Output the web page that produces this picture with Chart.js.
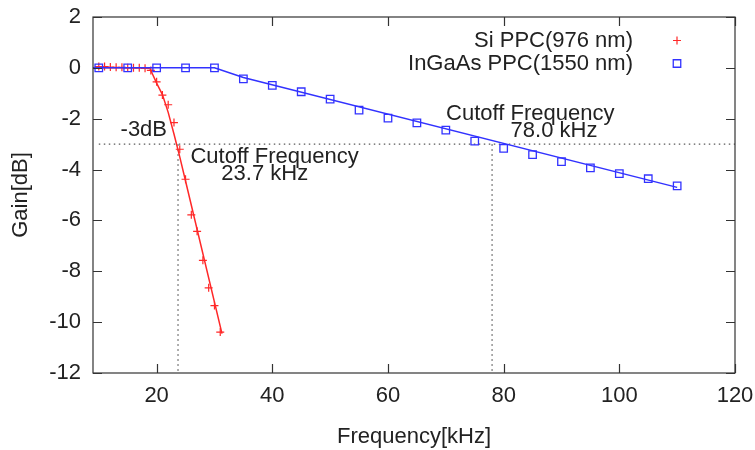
<!DOCTYPE html>
<html>
<head>
<meta charset="utf-8">
<script src="https://cdn.jsdelivr.net/npm/chart.js@4.4.0/dist/chart.umd.min.js"></script>
<style>
  html, body { margin: 0; padding: 0; background: #fff; }
  #wrap { width: 755px; height: 450px; }
</style>
</head>
<body>
<div id="wrap"><canvas id="myChart" width="755" height="450"></canvas></div>
<script>
    'use strict';

    // measured points
    var siFreq = [10, 11, 12, 13, 14, 15, 16, 17, 18, 19, 20, 21, 22, 23, 24, 25, 26, 27, 28, 29, 30, 31];
    var siGain = [0.05, 0.05, 0.03, 0.02, 0.02, 0.0, 0.0, 0.0, -0.02, -0.1, -0.55, -1.07, -1.45, -2.15, -3.2, -4.38, -5.78, -6.43, -7.57, -8.65, -9.35, -10.39];
    var ingaasFreq = [10, 15, 20, 25, 30, 35, 40, 45, 50, 55, 60, 65, 70, 75, 80, 85, 90, 95, 100, 105, 110];
    var ingaasGain = [0, 0, 0, 0, 0, -0.43, -0.69, -0.94, -1.23, -1.66, -1.98, -2.16, -2.45, -2.88, -3.17, -3.41, -3.69, -3.93, -4.16, -4.36, -4.64];

    // fitted curves
    var siFitFreq = [8.5, 18.8, 19.3, 20, 21, 22, 23, 24, 25, 31.3];
    var siFitGain = [0, 0, -0.25, -0.6, -1.05, -1.75, -2.6, -3.5, -4.45, -10.45];
    var ingaasFitFreq = [9, 30, 35, 110];
    var ingaasFitGain = [0, 0, -0.38, -4.7];

    // -3 dB level and cutoff frequencies
    var levelFreq = [10, 120];
    var levelGain = -3;
    var cutoffFreq = [23.7, 78.0];

    var xTickValues = [20, 40, 60, 80, 100, 120];
    var yTickValues = [-12, -10, -8, -6, -4, -2, 0, 2];

    var noteText = ['-3dB', 'Cutoff Frequency', '23.7 kHz', 'Cutoff Frequency', '78.0 kHz'];
    var noteFreq = [21.8, 40.4, 38.7, 84.6, 88.7];
    var noteGain = [-2.45, -3.5, -4.17, -1.8, -2.5];
    var noteAlign = ['right', 'center', 'center', 'center', 'center'];

    var FONT = '"Liberation Sans", Arial, sans-serif';
    var RED = 'rgb(255, 40, 40)';
    var BLUE = 'rgb(50, 50, 255)';
    var DOT = 'rgb(90, 90, 90)';

    function pts(xs, ys) {
        return xs.map(function (x, i) { return {x: x, y: Array.isArray(ys) ? ys[i] : ys}; });
    }

    var dotted = {
        showLine: true, pointRadius: 0, borderColor: DOT, borderWidth: 1.3,
        borderDash: [1.5, 3.5], order: 9, legendHide: true
    };

    var datasets = [
        { label: 'InGaAs PPC(1550 nm)', data: pts(ingaasFreq, ingaasGain), pointStyle: 'rect',
          pointRadius: 5.3, borderColor: BLUE, backgroundColor: 'rgba(0,0,0,0)', pointBorderWidth: 1.3, order: 0 },
        { label: 'ingaas fit', data: pts(ingaasFitFreq, ingaasFitGain), showLine: true, pointRadius: 0,
          borderColor: BLUE, borderWidth: 1.5, order: 1, legendHide: true },
        { label: 'Si PPC(976 nm)', data: pts(siFreq, siGain), pointStyle: 'cross',
          pointRadius: 4, borderColor: RED, backgroundColor: RED, pointBorderWidth: 1.2, order: 2 },
        { label: 'si fit', data: pts(siFitFreq, siFitGain), showLine: true, pointRadius: 0,
          borderColor: RED, borderWidth: 1.5, order: 3, legendHide: true },
        Object.assign({ label: 'level', data: pts(levelFreq, levelGain) }, dotted)
    ];
    cutoffFreq.forEach(function (f) {
        datasets.push(Object.assign({ label: 'cutoff', data: pts([f, f], [levelGain, -12]) }, dotted));
    });

    // box frame with inward ticks on all four sides
    var frameTicks = {
        id: 'frameTicks',
        afterDatasetsDraw: function (chart) {
            var ctx = chart.ctx, a = chart.chartArea;
            var xs = chart.scales.x, ys = chart.scales.y;
            var len = 9;
            ctx.save();
            ctx.strokeStyle = '#333';
            ctx.lineWidth = 1.2;
            ctx.strokeRect(a.left, a.top, a.right - a.left, a.bottom - a.top);
            ctx.beginPath();
            xTickValues.forEach(function (v) {
                var px = Math.round(xs.getPixelForValue(v)) + 0.5;
                ctx.moveTo(px, a.bottom); ctx.lineTo(px, a.bottom - len);
                ctx.moveTo(px, a.top); ctx.lineTo(px, a.top + len);
            });
            yTickValues.forEach(function (v) {
                var py = Math.round(ys.getPixelForValue(v)) + 0.5;
                ctx.moveTo(a.left, py); ctx.lineTo(a.left + len, py);
                ctx.moveTo(a.right, py); ctx.lineTo(a.right - len, py);
            });
            ctx.stroke();
            ctx.restore();
        }
    };

    // text labels placed in data coordinates
    var notes = {
        id: 'notes',
        afterDraw: function (chart) {
            var ctx = chart.ctx;
            var xs = chart.scales.x, ys = chart.scales.y;
            ctx.save();
            ctx.font = '22px ' + FONT;
            ctx.fillStyle = '#222';
            ctx.textBaseline = 'middle';
            noteText.forEach(function (t, i) {
                ctx.textAlign = noteAlign[i];
                ctx.fillText(t, xs.getPixelForValue(noteFreq[i]), ys.getPixelForValue(noteGain[i]));
            });
            ctx.restore();
        }
    };

    // gnuplot style key: text right aligned, sample on the right
    var keyBox = {
        id: 'keyBox',
        afterDraw: function (chart) {
            var ctx = chart.ctx, a = chart.chartArea;
            var rows = chart.data.datasets.filter(function (d) { return !d.legendHide; });
            rows.sort(function (p, q) { return q.order - p.order; });
            ctx.save();
            ctx.font = '22px ' + FONT;
            ctx.textAlign = 'right';
            ctx.textBaseline = 'middle';
            rows.forEach(function (d, i) {
                var y = a.top + 23.5 + i * 23;
                ctx.fillStyle = '#222';
                ctx.fillText(d.label, a.right - 102, y);
                ctx.strokeStyle = d.borderColor;
                ctx.fillStyle = d.backgroundColor;
                ctx.lineWidth = d.pointBorderWidth;
                Chart.helpers.drawPoint(ctx, {
                    pointStyle: d.pointStyle, radius: d.pointRadius, borderWidth: d.pointBorderWidth, rotation: 0
                }, a.right - 58, y);
            });
            ctx.restore();
        }
    };

    function noPad(s) {
        s.paddingTop = 0; s.paddingBottom = 0; s.paddingLeft = 0; s.paddingRight = 0;
    }

    var ctx = document.getElementById('myChart');
    new Chart(ctx, {
        type: 'scatter',
        data: { datasets: datasets },
        plugins: [frameTicks, notes, keyBox],
        options: {
            responsive: false,
            animation: false,
            devicePixelRatio: 1,
            layout: { padding: { top: 17, right: 20, left: 0, bottom: 0 } },
            plugins: { legend: { display: false }, tooltip: { enabled: false } },
            scales: {
                x: {
                    type: 'linear', min: 9, max: 120,
                    afterBuildTicks: function (s) { s.ticks = xTickValues.map(function (v) { return {value: v}; }); },
                    afterFit: function (s) { s.height = 77; noPad(s); },
                    grid: { display: false, drawTicks: false },
                    border: { display: false },
                    ticks: { padding: 10, color: '#222', font: { family: FONT, size: 22 }, maxRotation: 0 },
                    title: { display: true, text: 'Frequency[kHz]', color: '#222',
                             font: { family: FONT, size: 22 }, padding: { top: 0, bottom: 0 } }
                },
                y: {
                    type: 'linear', min: -12, max: 2,
                    afterBuildTicks: function (s) { s.ticks = yTickValues.map(function (v) { return {value: v}; }); },
                    afterFit: function (s) { s.width = 93; noPad(s); },
                    grid: { display: false, drawTicks: false },
                    border: { display: false },
                    ticks: { padding: 12, color: '#222', font: { family: FONT, size: 22 } },
                    title: { display: true, text: 'Gain[dB]', color: '#222',
                             font: { family: FONT, size: 22 }, padding: { top: 8, bottom: 0 } }
                }
            }
        }
    });
</script>
</body>
</html>
